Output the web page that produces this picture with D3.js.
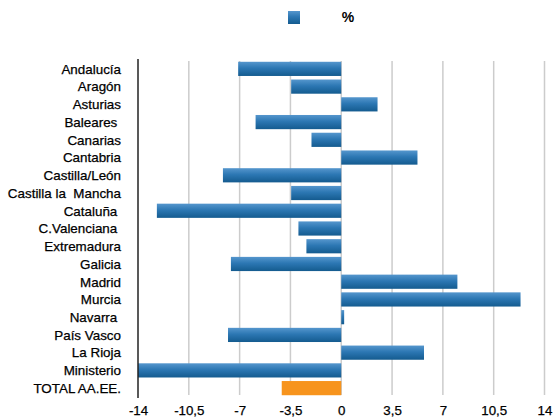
<!DOCTYPE html>
<html>
<head>
<meta charset="utf-8">
<script src="https://cdn.jsdelivr.net/npm/d3@7"></script>
<style>
  html, body { margin: 0; padding: 0; background: #fff; }
  svg text { font-family: "Liberation Sans", Arial, Helvetica, sans-serif; white-space: pre; }
</style>
</head>
<body>
<svg id="chart" width="554" height="417"></svg>
<script>
const categories = ["Andalucía", "Aragón", "Asturias", "Baleares ", "Canarias", "Cantabria",
  "Castilla/León", "Castilla la  Mancha", "Cataluña ", "C.Valenciana ", "Extremadura",
  "Galicia", "Madrid", "Murcia", "Navarra ", "País Vasco", "La Rioja", "Ministerio", "TOTAL AA.EE."];
const values = [-7.1, -3.45, 2.5, -5.9, -2.05, 5.25, -8.15, -3.45, -12.7, -2.95, -2.4,
  -7.6, 8.0, 12.35, 0.2, -7.8, 5.7, -14.0, -4.1];
const totalCategory = "TOTAL AA.EE.";
const tickValues = [-14, -10.5, -7, -3.5, 0, 3.5, 7, 10.5, 14];
const tickLabels = ["-14", "-10,5", "-7", "-3,5", "0", "3,5", "7", "10,5", "14"];
const legendLabel = "%";

const svg = d3.select("#chart");

const x = d3.scaleLinear().domain([-14, 14]).range([138, 544.5]);
const y = d3.scaleBand().domain(categories).range([60, 397]).paddingInner(0.2).paddingOuter(0.1);

const defs = svg.append("defs");
const grad = defs.append("linearGradient").attr("id", "blueGrad")
  .attr("x1", 0).attr("y1", 0).attr("x2", 0).attr("y2", 1);
grad.append("stop").attr("offset", "0%").attr("stop-color", "#5596cd");
grad.append("stop").attr("offset", "45%").attr("stop-color", "#2c77b3");
grad.append("stop").attr("offset", "100%").attr("stop-color", "#145b8f");

// gridlines
svg.append("g").selectAll("line")
  .data(tickValues.filter(d => d !== -14))
  .join("line")
  .attr("x1", d => x(d)).attr("x2", d => x(d))
  .attr("y1", 61).attr("y2", 395)
  .attr("stroke", "#cccccc").attr("stroke-width", 1.5);

// bars
svg.append("g").selectAll("rect")
  .data(categories.map((c, i) => ({ c, v: values[i] })))
  .join("rect")
  .attr("x", d => x(Math.min(0, d.v)))
  .attr("width", d => Math.abs(x(d.v) - x(0)))
  .attr("y", d => y(d.c))
  .attr("height", y.bandwidth())
  .attr("fill", d => d.c === totalCategory ? "#f7941d" : "url(#blueGrad)");

// left axis line
svg.append("line")
  .attr("x1", x(-14)).attr("x2", x(-14))
  .attr("y1", 59).attr("y2", 398)
  .attr("stroke", "#222").attr("stroke-width", 1.5);

// category labels
svg.append("g").selectAll("text")
  .data(categories)
  .join("text")
  .attr("x", 121)
  .attr("y", d => y(d) + y.bandwidth() / 2)
  .attr("dy", "0.36em")
  .attr("text-anchor", "end")
  .attr("font-size", 13.4)
  .attr("fill", "#000")
  .attr("stroke", "#000").attr("stroke-width", 0.25)
  .text(d => d);

// x axis via d3 axis
const xAxis = d3.axisBottom(x)
  .tickValues(tickValues)
  .tickFormat((d, i) => tickLabels[i])
  .tickSize(0)
  .tickPadding(0);
const gx = svg.append("g").attr("transform", "translate(0,406)").call(xAxis);
gx.select(".domain").remove();
gx.selectAll("text")
  .attr("font-family", "Liberation Sans, Arial, sans-serif")
  .attr("font-size", 13.3)
  .attr("fill", "#000")
  .attr("stroke", "#000").attr("stroke-width", 0.25);

// legend
svg.append("rect").attr("x", 288).attr("y", 11).attr("width", 12).attr("height", 13)
  .attr("fill", "url(#blueGrad)");
svg.append("text").attr("x", 348).attr("y", 17).attr("dy", "0.35em")
  .attr("text-anchor", "middle").attr("font-size", 14).attr("font-weight", "bold")
  .text(legendLabel);
</script>
</body>
</html>
